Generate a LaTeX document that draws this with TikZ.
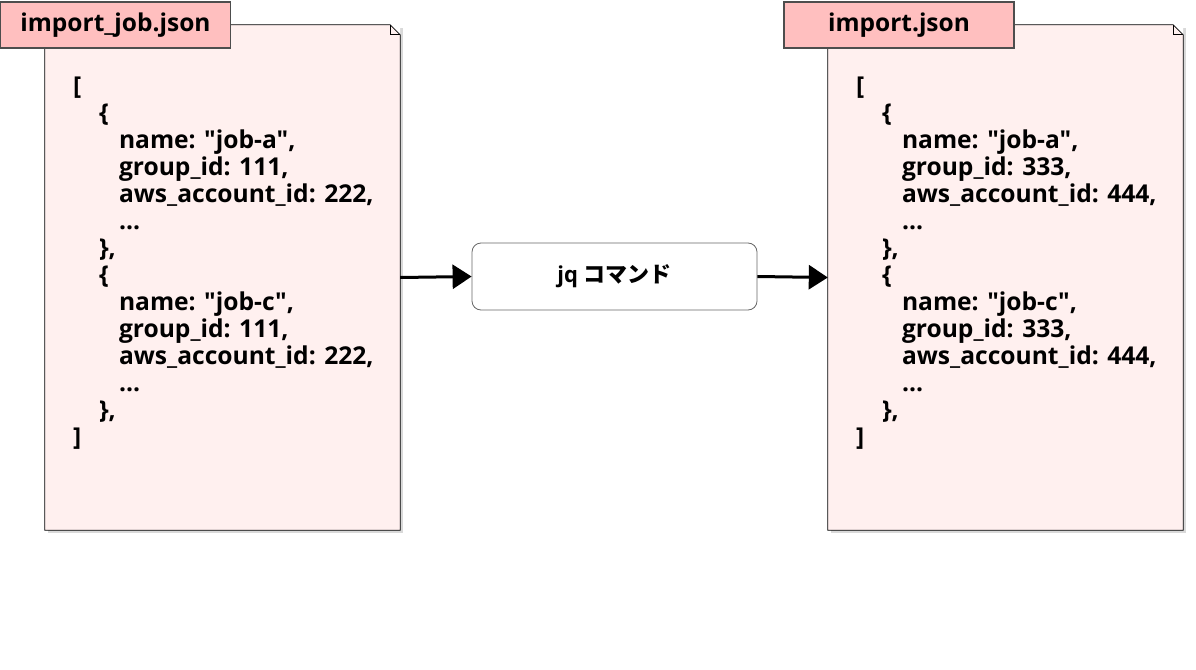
\documentclass[tikz,border=0pt]{standalone}
\usepackage{fontspec}
\setmainfont{Open Sans}
\newfontfamily\codefont{Open Sans}
\newfontfamily\cjk{Noto Sans CJK JP}
\usetikzlibrary{positioning,shadows,arrows.meta}

\definecolor{pagefill}{HTML}{FFF0EF}
\definecolor{titlefill}{HTML}{FFBFBF}
\definecolor{titleline}{HTML}{4D4D4D}
\definecolor{boxline}{HTML}{666666}

\begin{document}
\begin{tikzpicture}[x=1pt, y=-1pt, font=\bfseries,
    page/.style={rectangle, fill=pagefill, inner sep=0pt,
                 minimum width=355pt, minimum height=505pt,
                 drop shadow={shadow xshift=3pt, shadow yshift=-3pt, opacity=.3}},
    outline/.style={draw, thick, line join=miter},
    title/.style={rectangle, draw=titleline, line width=1.6pt, fill=titlefill,
                  minimum width=230pt, minimum height=46pt, inner sep=0pt,
                  font=\fontsize{24.5}{28}\selectfont\bfseries},
    code/.style={align=left, inner sep=0pt,
                 font=\codefont\fontsize{24.6}{27}\selectfont\bfseries},
    cmd/.style={rectangle, rounded corners=9pt, draw=boxline, thick, fill=white,
                minimum width=285pt, minimum height=67pt,
                font=\fontsize{22}{24}\selectfont\bfseries},
    flow/.style={line width=3pt, -{Triangle[length=19pt, width=24pt]}}]
    \useasboundingbox (0,0) rectangle (1196,669);

    \node[page]  (srcdoc) at (222.5,277.5) {};
    \node[page]  (dstdoc) at (1005.5,277.5) {};
    \node[cmd]   (jq)     at (614.5,276.5) {jq {\cjk\bfseries コマンド}};

    % dog-eared outlines
    \foreach \d in {srcdoc, dstdoc} {
        \fill[white] ([xshift=-10pt]\d.north -| \d.east) -- (\d.north -| \d.east)
            -- ++(0,10) -- cycle;
        \draw[outline] (\d.north west) -- ([xshift=-10pt]\d.north -| \d.east)
            -- ++(10,10) -- (\d.south east) -- (\d.south west) -- cycle;
        \draw[outline] ([xshift=-10pt]\d.north -| \d.east) -- ++(0,10) -- ++(10,0);
    }

    \node[title] (srctitle) at (115.5,25) {import\_job.json};
    \node[title] (dsttitle) at (899,25)   {import.json};

    \node[code, below right=52pt and 28pt of srcdoc.north west, anchor=north west] (srccode)
        {[\\
         \hspace*{26pt}\{\\
         \hspace*{46pt}name: "job-a",\\
         \hspace*{46pt}group\_id: 111,\\
         \hspace*{46pt}aws\_account\_id: 222,\\
         \hspace*{46pt}...\\
         \hspace*{26pt}\},\\
         \hspace*{26pt}\{\\
         \hspace*{46pt}name: "job-c",\\
         \hspace*{46pt}group\_id: 111,\\
         \hspace*{46pt}aws\_account\_id: 222,\\
         \hspace*{46pt}...\\
         \hspace*{26pt}\},\\
         ]};
    \node[code, below right=52pt and 28pt of dstdoc.north west, anchor=north west] (dstcode)
        {[\\
         \hspace*{26pt}\{\\
         \hspace*{46pt}name: "job-a",\\
         \hspace*{46pt}group\_id: 333,\\
         \hspace*{46pt}aws\_account\_id: 444,\\
         \hspace*{46pt}...\\
         \hspace*{26pt}\},\\
         \hspace*{26pt}\{\\
         \hspace*{46pt}name: "job-c",\\
         \hspace*{46pt}group\_id: 333,\\
         \hspace*{46pt}aws\_account\_id: 444,\\
         \hspace*{46pt}...\\
         \hspace*{26pt}\},\\
         ]};

    \draw[flow] (srcdoc.east) -- (jq.west);
    \draw[flow] (jq.east) -- (dstdoc.west);
\end{tikzpicture}
\end{document}
